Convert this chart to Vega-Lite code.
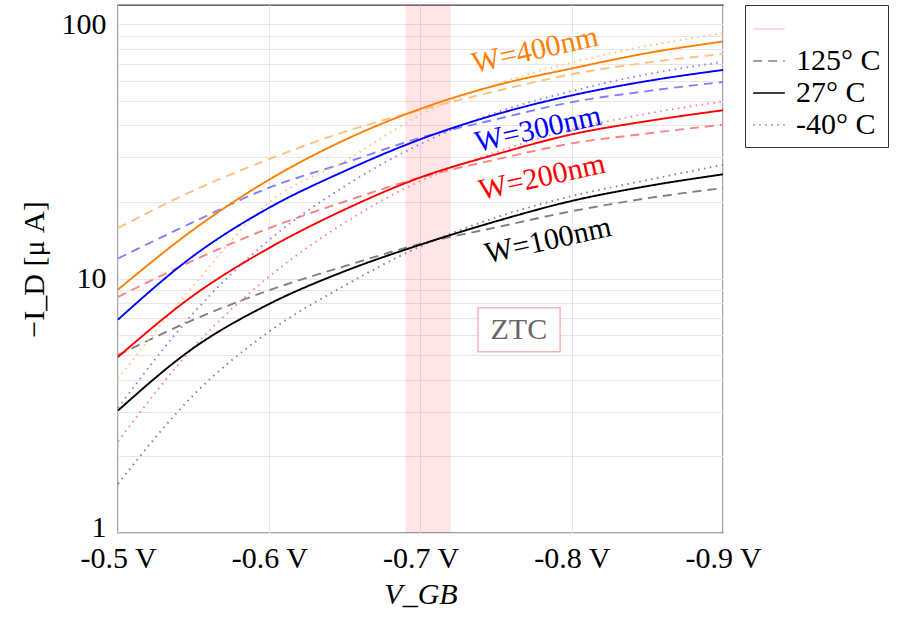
{
  "$schema": "https://vega.github.io/schema/vega-lite/v6.json",
  "width": 605,
  "height": 528,
  "autosize": {"type": "none"},
  "padding": {"left": 118, "top": 5, "right": 176, "bottom": 90},
  "background": "white",
  "datasets": {
    "curves": [
      {"w":"W=100nm","t":"27° C","v":-0.5,"i":3.03},{"w":"W=100nm","t":"27° C","v":-0.55,"i":5.34},{"w":"W=100nm","t":"27° C","v":-0.6,"i":7.95},{"w":"W=100nm","t":"27° C","v":-0.65,"i":10.7},{"w":"W=100nm","t":"27° C","v":-0.7,"i":13.6},{"w":"W=100nm","t":"27° C","v":-0.75,"i":16.8},{"w":"W=100nm","t":"27° C","v":-0.8,"i":20.2},{"w":"W=100nm","t":"27° C","v":-0.85,"i":23.1},{"w":"W=100nm","t":"27° C","v":-0.9,"i":25.7},
      {"w":"W=100nm","t":"-40° C","v":-0.5,"i":1.56},{"w":"W=100nm","t":"-40° C","v":-0.55,"i":3.49},{"w":"W=100nm","t":"-40° C","v":-0.6,"i":6.2},{"w":"W=100nm","t":"-40° C","v":-0.65,"i":9.4},{"w":"W=100nm","t":"-40° C","v":-0.7,"i":13.4},{"w":"W=100nm","t":"-40° C","v":-0.75,"i":17.4},{"w":"W=100nm","t":"-40° C","v":-0.8,"i":21.1},{"w":"W=100nm","t":"-40° C","v":-0.85,"i":24.4},{"w":"W=100nm","t":"-40° C","v":-0.9,"i":28.0},
      {"w":"W=100nm","t":"125° C","v":-0.5,"i":5.0},{"w":"W=100nm","t":"125° C","v":-0.55,"i":6.9},{"w":"W=100nm","t":"125° C","v":-0.6,"i":9.0},{"w":"W=100nm","t":"125° C","v":-0.65,"i":11.2},{"w":"W=100nm","t":"125° C","v":-0.7,"i":13.7},{"w":"W=100nm","t":"125° C","v":-0.75,"i":15.9},{"w":"W=100nm","t":"125° C","v":-0.8,"i":18.4},{"w":"W=100nm","t":"125° C","v":-0.85,"i":20.7},{"w":"W=100nm","t":"125° C","v":-0.9,"i":22.7},
      {"w":"W=200nm","t":"27° C","v":-0.5,"i":4.92},{"w":"W=200nm","t":"27° C","v":-0.55,"i":8.6},{"w":"W=200nm","t":"27° C","v":-0.6,"i":13.2},{"w":"W=200nm","t":"27° C","v":-0.65,"i":18.7},{"w":"W=200nm","t":"27° C","v":-0.7,"i":25.0},{"w":"W=200nm","t":"27° C","v":-0.75,"i":30.8},{"w":"W=200nm","t":"27° C","v":-0.8,"i":36.9},{"w":"W=200nm","t":"27° C","v":-0.85,"i":41.6},{"w":"W=200nm","t":"27° C","v":-0.9,"i":45.9},
      {"w":"W=200nm","t":"-40° C","v":-0.5,"i":2.29},{"w":"W=200nm","t":"-40° C","v":-0.55,"i":5.38},{"w":"W=200nm","t":"-40° C","v":-0.6,"i":10.2},{"w":"W=200nm","t":"-40° C","v":-0.65,"i":16.6},{"w":"W=200nm","t":"-40° C","v":-0.7,"i":24.2},{"w":"W=200nm","t":"-40° C","v":-0.75,"i":31.4},{"w":"W=200nm","t":"-40° C","v":-0.8,"i":38.6},{"w":"W=200nm","t":"-40° C","v":-0.85,"i":44.5},{"w":"W=200nm","t":"-40° C","v":-0.9,"i":49.7},
      {"w":"W=200nm","t":"125° C","v":-0.5,"i":8.47},{"w":"W=200nm","t":"125° C","v":-0.55,"i":11.8},{"w":"W=200nm","t":"125° C","v":-0.6,"i":15.8},{"w":"W=200nm","t":"125° C","v":-0.65,"i":20.1},{"w":"W=200nm","t":"125° C","v":-0.7,"i":25.0},{"w":"W=200nm","t":"125° C","v":-0.75,"i":29.4},{"w":"W=200nm","t":"125° C","v":-0.8,"i":34.0},{"w":"W=200nm","t":"125° C","v":-0.85,"i":37.2},{"w":"W=200nm","t":"125° C","v":-0.9,"i":40.3},
      {"w":"W=300nm","t":"27° C","v":-0.5,"i":6.9},{"w":"W=300nm","t":"27° C","v":-0.55,"i":12.3},{"w":"W=300nm","t":"27° C","v":-0.6,"i":19.0},{"w":"W=300nm","t":"27° C","v":-0.65,"i":26.5},{"w":"W=300nm","t":"27° C","v":-0.7,"i":35.3},{"w":"W=300nm","t":"27° C","v":-0.75,"i":44.2},{"w":"W=300nm","t":"27° C","v":-0.8,"i":52.5},{"w":"W=300nm","t":"27° C","v":-0.85,"i":59.8},{"w":"W=300nm","t":"27° C","v":-0.9,"i":66.1},
      {"w":"W=300nm","t":"-40° C","v":-0.5,"i":3.1},{"w":"W=300nm","t":"-40° C","v":-0.55,"i":7.33},{"w":"W=300nm","t":"-40° C","v":-0.6,"i":14.2},{"w":"W=300nm","t":"-40° C","v":-0.65,"i":23.1},{"w":"W=300nm","t":"-40° C","v":-0.7,"i":33.8},{"w":"W=300nm","t":"-40° C","v":-0.75,"i":44.9},{"w":"W=300nm","t":"-40° C","v":-0.8,"i":54.6},{"w":"W=300nm","t":"-40° C","v":-0.85,"i":63.6},{"w":"W=300nm","t":"-40° C","v":-0.9,"i":71.1},
      {"w":"W=300nm","t":"125° C","v":-0.5,"i":12.0},{"w":"W=300nm","t":"125° C","v":-0.55,"i":16.7},{"w":"W=300nm","t":"125° C","v":-0.6,"i":22.8},{"w":"W=300nm","t":"125° C","v":-0.65,"i":28.5},{"w":"W=300nm","t":"125° C","v":-0.7,"i":35.8},{"w":"W=300nm","t":"125° C","v":-0.75,"i":42.3},{"w":"W=300nm","t":"125° C","v":-0.8,"i":49.4},{"w":"W=300nm","t":"125° C","v":-0.85,"i":54.6},{"w":"W=300nm","t":"125° C","v":-0.9,"i":59.3},
      {"w":"W=400nm","t":"27° C","v":-0.5,"i":9.05},{"w":"W=400nm","t":"27° C","v":-0.55,"i":15.6},{"w":"W=400nm","t":"27° C","v":-0.6,"i":24.5},{"w":"W=400nm","t":"27° C","v":-0.65,"i":35.1},{"w":"W=400nm","t":"27° C","v":-0.7,"i":46.5},{"w":"W=400nm","t":"27° C","v":-0.75,"i":57.5},{"w":"W=400nm","t":"27° C","v":-0.8,"i":67.0},{"w":"W=400nm","t":"27° C","v":-0.85,"i":77.0},{"w":"W=400nm","t":"27° C","v":-0.9,"i":85.5},
      {"w":"W=400nm","t":"-40° C","v":-0.5,"i":4.05},{"w":"W=400nm","t":"-40° C","v":-0.55,"i":9.4},{"w":"W=400nm","t":"-40° C","v":-0.6,"i":20.0},{"w":"W=400nm","t":"-40° C","v":-0.65,"i":29.0},{"w":"W=400nm","t":"-40° C","v":-0.7,"i":44.0},{"w":"W=400nm","t":"-40° C","v":-0.75,"i":58.0},{"w":"W=400nm","t":"-40° C","v":-0.8,"i":70.7},{"w":"W=400nm","t":"-40° C","v":-0.85,"i":82.2},{"w":"W=400nm","t":"-40° C","v":-0.9,"i":92.2},
      {"w":"W=400nm","t":"125° C","v":-0.5,"i":15.8},{"w":"W=400nm","t":"125° C","v":-0.55,"i":22.2},{"w":"W=400nm","t":"125° C","v":-0.6,"i":29.5},{"w":"W=400nm","t":"125° C","v":-0.65,"i":37.8},{"w":"W=400nm","t":"125° C","v":-0.7,"i":46.0},{"w":"W=400nm","t":"125° C","v":-0.75,"i":54.6},{"w":"W=400nm","t":"125° C","v":-0.8,"i":63.6},{"w":"W=400nm","t":"125° C","v":-0.85,"i":70.7},{"w":"W=400nm","t":"125° C","v":-0.9,"i":76.4}
    ],
    "labels": [
      {"w":"W=400nm","v":-0.7758,"i":79.0},
      {"w":"W=300nm","v":-0.7778,"i":38.6},
      {"w":"W=200nm","v":-0.7804,"i":25.0},
      {"w":"W=100nm","v":-0.7844,"i":14.1}
    ],
    "band": [{"v":-0.69,"v2":-0.72,"i":1,"i2":119}],
    "ztcbox": [{"v":-0.738,"v2":-0.7923,"i":5.16,"i2":7.69,"label":"ZTC","vc":-0.765,"ic":6.3}]
  },
  "config": {
    "font": "Liberation Serif",
    "view": {"stroke": "#404040", "strokeWidth": 1.3},
    "axis": {
      "labelFont": "Liberation Serif", "labelFontSize": 30, "labelColor": "black",
      "titleFont": "Liberation Serif", "titleFontSize": 30, "titleColor": "black", "titleFontWeight": "normal",
      "grid": true, "gridColor": "#e6e6e6", "gridWidth": 1, "ticks": false, "domain": false,
      "labelOverlap": false, "labelFlush": false
    },
    "legend": {
      "labelFont": "Liberation Serif", "labelFontSize": 30, "labelColor": "black",
      "symbolType": "stroke", "symbolSize": 1000, "symbolStrokeWidth": 1.5, "symbolOpacity": 1,
      "strokeColor": "#333", "fillColor": "white", "padding": 7, "rowPadding": 0, "labelOffset": 10,
      "orient": "right", "offset": 18
    }
  },
  "resolve": {"scale": {"color": "independent"}},
  "encoding": {
    "x": {
      "field": "v", "type": "quantitative",
      "scale": {"domain": [-0.9, -0.5], "reverse": true, "nice": false, "zero": false},
      "axis": {
        "values": [-0.5, -0.6, -0.7, -0.8, -0.9],
        "labelExpr": "'-' + format(-datum.value, '.1f') + ' V'",
        "title": "V_GB", "titleFontStyle": "italic", "labelPadding": 10, "titlePadding": 6
      }
    },
    "y": {
      "field": "i", "type": "quantitative",
      "scale": {"type": "log", "domain": [1, 119], "nice": false},
      "axis": {
        "values": [1,2,3,4,5,6,7,8,9,10,20,30,40,50,60,70,80,90,100],
        "labelExpr": "datum.value == 1 || datum.value == 10 || datum.value == 100 ? format(datum.value, 'd') : ''",
        "labelOffset": {"condition": {"test": "datum.value == 1", "value": -6}, "value": 0},
        "title": "−I_D [μ A]", "labelPadding": 12, "titlePadding": 12
      }
    }
  },
  "layer": [
    {
      "data": {"name": "band"},
      "mark": {"type": "rect", "fill": "#ff0000", "opacity": 0.1},
      "encoding": {"x2": {"field": "v2"}, "y2": {"field": "i2"}}
    },
    {
      "data": {"name": "curves"},
      "transform": [{"filter": "datum.t !== '27° C'"}],
      "mark": {"type": "line", "strokeWidth": 1.9, "interpolate": "monotone"},
      "encoding": {
        "color": {"field": "w", "type": "nominal", "scale": {"domain": ["W=100nm","W=200nm","W=300nm","W=400nm"], "range": ["#808080","#ff8080","#8080ff","#ffc080"]}, "legend": null},
        "strokeDash": {"field": "t", "type": "nominal", "scale": {"domain": [" ","125° C","27° C","-40° C"], "range": [[1,0],[9,6],[1,0],[1.5,4.5]]},
          "legend": {"title": null, "encode": {"symbols": {"update": {"stroke": {"signal": "datum.value === ' ' ? '#ffcccc' : (datum.value === '27° C' ? '#000000' : '#808080')"}}}}}}
      }
    },
    {
      "data": {"name": "curves"},
      "transform": [{"filter": "datum.t === '27° C'"}],
      "mark": {"type": "line", "strokeWidth": 1.9, "interpolate": "monotone"},
      "encoding": {
        "color": {"field": "w", "type": "nominal", "scale": {"domain": ["W=100nm","W=200nm","W=300nm","W=400nm"], "range": ["#000000","#ff0000","#0000ff","#ff8000"]}, "legend": null},
        "strokeDash": {"field": "t", "type": "nominal",
          "legend": {"title": null, "encode": {"symbols": {"update": {"stroke": {"signal": "datum.value === ' ' ? '#ffcccc' : (datum.value === '27° C' ? '#000000' : '#808080')"}}}}}}
      }
    },
    {
      "data": {"name": "labels"},
      "mark": {"type": "text", "fontSize": 30, "angle": -12.5, "align": "center", "baseline": "middle", "font": "Liberation Serif"},
      "encoding": {
        "text": {"field": "w"},
        "color": {"field": "w", "type": "nominal", "scale": {"domain": ["W=100nm","W=200nm","W=300nm","W=400nm"], "range": ["#000000","#ff0000","#0000ff","#ff8000"]}, "legend": null}
      }
    },
    {
      "data": {"name": "ztcbox"},
      "mark": {"type": "rect", "fill": "white", "stroke": "#ffb3b3", "strokeWidth": 1.5},
      "encoding": {"x2": {"field": "v2"}, "y2": {"field": "i2"}}
    },
    {
      "data": {"name": "ztcbox"},
      "mark": {"type": "text", "fontSize": 30, "color": "#666666", "align": "center", "baseline": "middle", "font": "Liberation Serif"},
      "encoding": {"x": {"field": "vc", "type": "quantitative"}, "y": {"field": "ic", "type": "quantitative"}, "text": {"field": "label"}}
    }
  ]
}
